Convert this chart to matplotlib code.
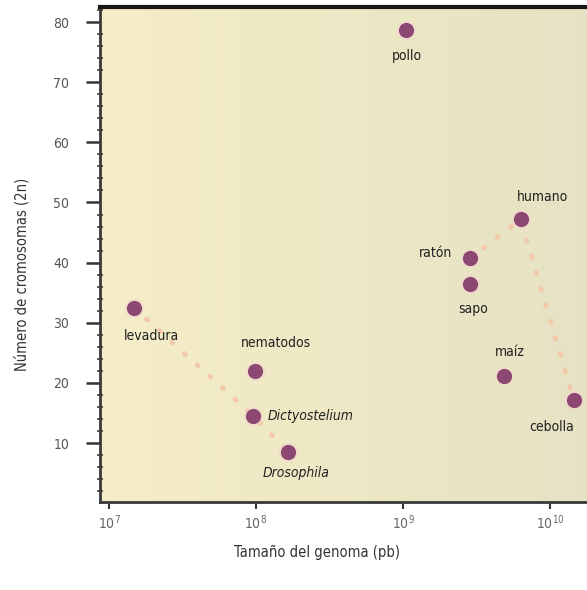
import numpy as np
import matplotlib.pyplot as plt
from matplotlib.ticker import MultipleLocator, FixedLocator

# datos
organismos = ["levadura", "nematodos", "Dictyostelium", "Drosophila", "pollo",
              "ratón", "sapo", "humano", "maíz", "cebolla"]
genoma_pb = [1.48e7, 9.8e7, 9.6e7, 1.66e8, 1.05e9, 2.86e9, 2.86e9, 6.3e9, 4.9e9, 1.45e10]
cromosomas = [32.5, 22, 14.5, 8.5, 78.7, 40.7, 36.5, 47.2, 21.1, 17.1]
cursiva = [False, False, True, True, False, False, False, False, False, False]

# lineas punteadas (indices)
grupo1 = [0, 2, 3]
grupo2 = [5, 7, 9]

# posicion de las etiquetas (pixeles respecto al punto) y alineacion
offsets = [(18, -28, "center"), (21, 28, "center"), (14, 0, "left"), (8, -21, "center"),
           (1, -26, "center"), (-18, 5, "right"), (3, -25, "center"), (22, 22, "center"),
           (5, 24, "center"), (-44, -27, "left")]

plt.rcParams['font.family'] = ['DejaVu Sans']
plt.rcParams['font.stretch'] = 'condensed'

fig = plt.figure(figsize=(5.87, 5.90), dpi=100)
ax = fig.add_axes([100 / 587, 88 / 590, 500 / 587, 495 / 590])

# fondo degradado
grad = np.zeros((50, 100, 3))
izq = np.array([0.960, 0.930, 0.780])
der = np.array([0.900, 0.885, 0.765])
t = np.linspace(0, 1, 100)
for i in range(50):
    grad[i] = izq[None, :] * (1 - t[:, None]) + der[None, :] * t[:, None]
ax.imshow(grad, extent=[0, 1, 0, 1], transform=ax.transAxes, aspect='auto', zorder=0)

ax.set_xscale('log')
ax.set_xlim(10 ** 6.939, 10 ** 10.34)
ax.set_ylim(0.2, 82.5)

col_linea = "#f2caa9"
for g in (grupo1, grupo2):
    ax.plot([genoma_pb[i] for i in g], [cromosomas[i] for i in g], color=col_linea,
            linewidth=3.5, linestyle=(0, (0.3, 3.2)), dash_capstyle='round', zorder=2)

ax.scatter(genoma_pb, cromosomas, s=190, color="#f4d6cf", alpha=0.6, zorder=3, linewidths=0)
ax.scatter(genoma_pb, cromosomas, s=120, color="#8c4872", zorder=4, linewidths=0)

for i, nombre in enumerate(organismos):
    dx, dy, ha = offsets[i]
    ax.annotate(nombre, (genoma_pb[i], cromosomas[i]), xytext=(dx, dy),
                textcoords='offset pixels', ha=ha, va='center', fontsize=10,
                color="#222222", style='italic' if cursiva[i] else 'normal', zorder=5)

ax.xaxis.set_major_locator(FixedLocator([1e7, 1e8, 1e9, 1e10]))
ax.xaxis.set_minor_locator(FixedLocator([]))
ax.set_xticklabels([r"$10^{7}$", r"$10^{8}$", r"$10^{9}$", r"$10^{10}$"])
ax.yaxis.set_major_locator(FixedLocator([10, 20, 30, 40, 50, 60, 70, 80]))
ax.yaxis.set_minor_locator(MultipleLocator(2))

ax.tick_params(axis='y', which='major', direction='out', length=10, width=1.8,
               color="#333333", labelsize=10, labelcolor="#555555", pad=12)
ax.tick_params(axis='y', which='minor', direction='inout', length=5, width=1.2, color="#444444")
ax.tick_params(axis='x', which='major', direction='out', length=5, width=1.5,
               color="#333333", labelsize=10, labelcolor="#666666", pad=3)

for s in ("left", "bottom"):
    ax.spines[s].set_color("#3a3a3a")
    ax.spines[s].set_linewidth(2)
ax.spines["top"].set_color("#1a1410")
ax.spines["top"].set_linewidth(3)
ax.spines["right"].set_visible(False)

ax.set_xlabel("Tamaño del genoma (pb)", fontsize=10.5, color="#333333")
ax.set_ylabel("Número de cromosomas (2n)", fontsize=10.5, color="#333333")
ax.xaxis.set_label_coords(217 / 500, -43 / 495)
ax.yaxis.set_label_coords(-70 / 500, 0.46)

fig.savefig("out.png", dpi=100)
